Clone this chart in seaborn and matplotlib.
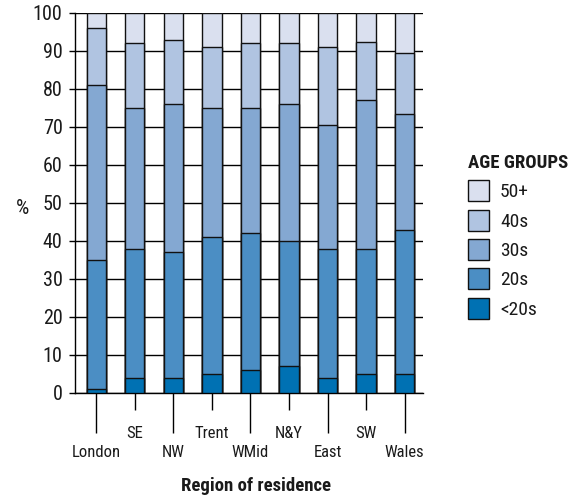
import numpy as np
import matplotlib
matplotlib.use("Agg")
import matplotlib.pyplot as plt
from matplotlib.patches import Patch
from matplotlib.ticker import FixedLocator, FixedFormatter
import pandas as pd
import seaborn as sns

regions = ["London", "SE", "NW", "Trent", "WMid", "N&Y", "East", "SW", "Wales"]
age_groups = ["<20s", "20s", "30s", "40s", "50+"]

# percentage of each age group per region
under20 = [1, 4, 4, 5, 6, 7, 4, 5, 5]
twenties = [34, 34, 33, 36, 36, 33, 34, 33, 38]
thirties = [46, 37, 39, 34, 33, 36, 32.5, 39, 30.5]
forties = [15, 17, 17, 16, 17, 16, 20.5, 15.5, 16]
fifty_plus = [4, 8, 7, 9, 8, 8, 9, 7.5, 10.5]

colors = ["#0071B3", "#4B8EC4", "#84A8D2", "#B0C4E1", "#DAE0EF"]

sns.set_theme(style="white")
plt.rcParams["font.family"] = ["Roboto Condensed", "DejaVu Sans"]
plt.rcParams["text.color"] = "#1a1a1a"
plt.rcParams["xtick.color"] = "black"
plt.rcParams["ytick.color"] = "black"
plt.rcParams["xtick.labelcolor"] = "#1a1a1a"
plt.rcParams["ytick.labelcolor"] = "#1a1a1a"
plt.rcParams["axes.labelcolor"] = "#1a1a1a"

df = pd.DataFrame({"region": regions, "<20s": under20, "20s": twenties,
                   "30s": thirties, "40s": forties, "50+": fifty_plus})
cum = df[age_groups].cumsum(axis=1)
cum["region"] = df["region"]

fig = plt.figure(figsize=(5.76, 4.99), dpi=100)
ax = fig.add_axes([75 / 576, 1 - 393 / 499, 348 / 576, 380 / 499])

# draw cumulative bars from the top group down so they stack visually
for grp, col in reversed(list(zip(age_groups, colors))):
    sns.barplot(data=cum, x="region", y=grp, order=regions, color=col,
                width=0.5, edgecolor="#111111", linewidth=1.0, saturation=1,
                ax=ax, zorder=3)

ax.set_xlim(-0.55, 8.475)
ax.set_ylim(0, 100)
ax.set_yticks(np.arange(0, 101, 10))
ax.yaxis.grid(True, color="black", linewidth=1.0)
ax.set_axisbelow(True)
for s in ["top", "right"]:
    ax.spines[s].set_visible(False)
for s in ["left", "bottom"]:
    ax.spines[s].set_color("black")
    ax.spines[s].set_linewidth(1.0)

# staggered x labels: long ticks for even positions, short for odd
ax.xaxis.set_major_locator(FixedLocator(range(0, 9, 2)))
ax.xaxis.set_minor_locator(FixedLocator(range(1, 9, 2)))
ax.set_xticklabels(regions[0::2])
ax.xaxis.set_minor_formatter(FixedFormatter(regions[1::2]))
ax.tick_params(axis="x", which="major", length=28.8, width=1,
               pad=8.5, labelsize=12, bottom=True)
ax.tick_params(axis="x", which="minor", length=12.2, width=1,
               pad=11.5, labelsize=12, bottom=True)
ax.tick_params(axis="y", length=4, width=1, pad=5,
               labelsize=14.5, left=True)

ax.set_ylabel("%", rotation=0, fontsize=15, va="center")
ax.yaxis.set_label_coords(-0.152, 0.485)
ax.set_xlabel("Region of residence", fontsize=13.5, fontweight="bold")
ax.xaxis.set_label_coords(0.52, -0.222)

handles = [Patch(facecolor=c, edgecolor="#111111", linewidth=1.0, label=g)
           for g, c in zip(age_groups, colors)][::-1]
leg = fig.legend(handles=handles, title="AGE GROUPS", loc="upper left",
                 bbox_to_anchor=(468 / 576, 1 - 154 / 499), frameon=False,
                 fontsize=14, handlelength=1.1, handleheight=1.3,
                 handletextpad=0.55, labelspacing=0.42, borderpad=0,
                 borderaxespad=0, alignment="left",
                 title_fontproperties={"weight": "bold", "size": 13.5})

fig.savefig("out.png", dpi=100)
